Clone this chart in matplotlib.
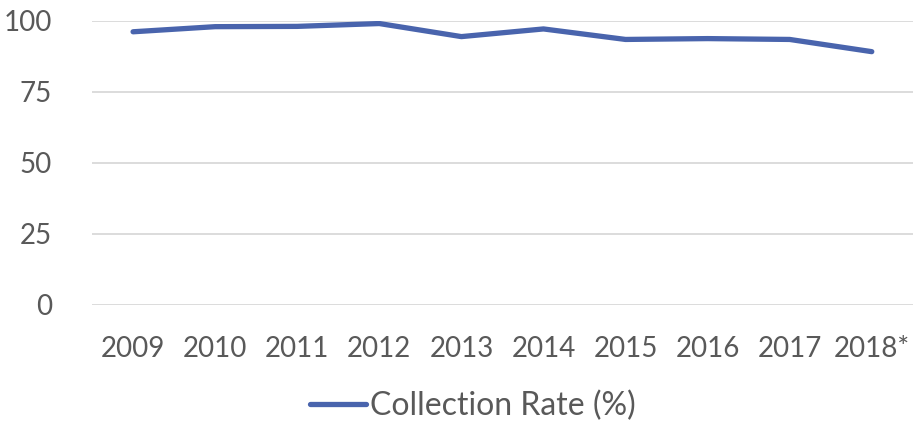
import matplotlib.pyplot as plt
import numpy as np

years = ["2009", "2010", "2011", "2012", "2013", "2014", "2015", "2016", "2017", "2018*"]
collection_rate = [96.2, 98.0, 98.1, 99.1, 94.5, 97.2, 93.5, 93.8, 93.5, 89.2]

plt.rcParams["font.family"] = ["Lato", "DejaVu Sans"]
grey = "#595959"

fig = plt.figure(figsize=(9.13, 4.24), dpi=100)
ax = fig.add_axes([0.1008, 0.2807, 0.899, 0.6698])

x = np.arange(len(years))
ax.plot(x, collection_rate, color="#4964AD", lw=3.8, solid_capstyle="round",
        solid_joinstyle="round", label="Collection Rate (%)", zorder=3)

ax.set_xlim(-0.5, len(years) - 0.5)
ax.set_ylim(0, 100)
ax.set_yticks([0, 25, 50, 75, 100])
ax.set_xticks(x)
ax.set_xticklabels(years)
ax.grid(axis="y", color="#d9d9d9", lw=1.3)
ax.set_axisbelow(True)
for s in ax.spines.values():
    s.set_visible(False)
ax.tick_params(length=0, labelsize=20, colors=grey)
ax.tick_params(axis="x", pad=22)
ax.tick_params(axis="y", pad=29)

leg = fig.legend(loc="center", bbox_to_anchor=(0.518, 0.043), frameon=False,
                 fontsize=23, handlelength=1.75, handletextpad=0.15)
for t in leg.get_texts():
    t.set_color(grey)

fig.savefig("out.png", dpi=100)
